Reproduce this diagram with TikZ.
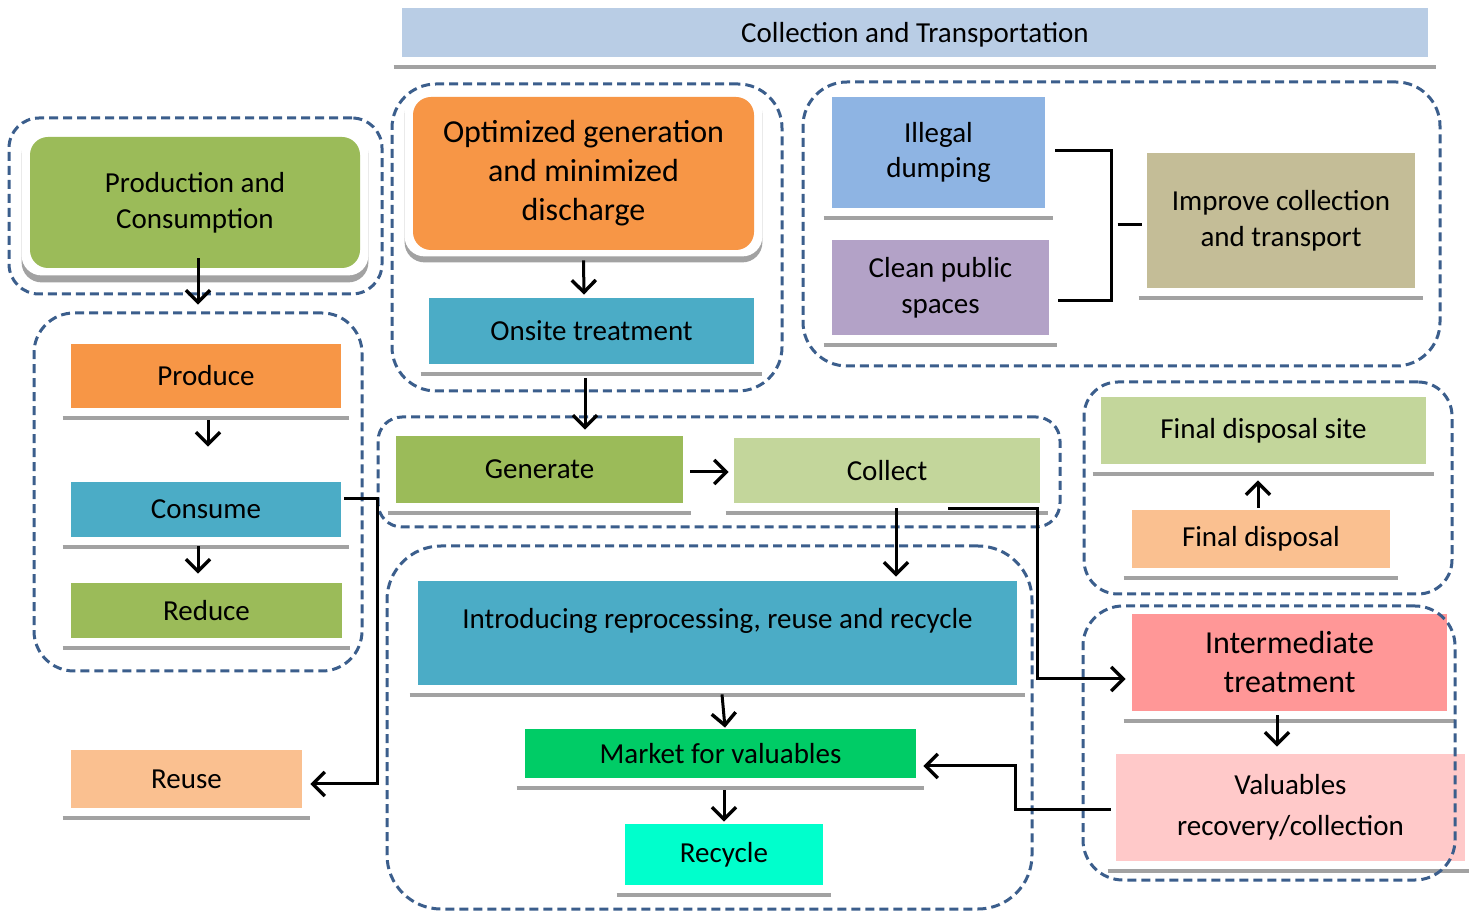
\documentclass[tikz,border=0pt]{standalone}
\usepackage{fontspec}
\setmainfont{Carlito}
\usetikzlibrary{arrows.meta,backgrounds,fit}

\definecolor{bannerblue}{HTML}{B9CDE5}
\definecolor{leafgreen}{HTML}{9BBB59}
\definecolor{paleleaf}{HTML}{C3D69B}
\definecolor{amberbox}{HTML}{F79646}
\definecolor{peachbox}{HTML}{FAC090}
\definecolor{tealbox}{HTML}{4BACC6}
\definecolor{skybox}{HTML}{8EB4E3}
\definecolor{lilacbox}{HTML}{B3A2C7}
\definecolor{khakibox}{HTML}{C4BD97}
\definecolor{salmonbox}{HTML}{FF9797}
\definecolor{blushbox}{HTML}{FFC9C9}
\definecolor{emeraldbox}{HTML}{00CC66}
\definecolor{aquabox}{HTML}{00FFCC}
\definecolor{grpblue}{HTML}{3B5E8C}
\definecolor{shadowgray}{HTML}{A2A2A2}

\tikzset{
  lbl/.style={font=\fontsize{14.5}{18}\selectfont, align=center, text=black},
  big/.style={font=\fontsize{16}{19.5}\selectfont},
  sz/.style 2 args={minimum width=#1*0.5pt, minimum height=#2*0.5pt},
  bar/.style={draw=shadowgray, line width=2pt},
  tile/.style={lbl, fill=#1, inner sep=0pt,
    append after command={([shift={(-8,10)}]\tikzlastnode.south west)
      edge[bar] ([shift={(8,10)}]\tikzlastnode.south east)}},
  rtile/.style={lbl, fill=#1, inner sep=0pt, rounded corners=9pt},
  frameshade/.style={fill=shadowgray, rounded corners=10pt},
  framewhite/.style={fill=white, rounded corners=10pt},
  grp/.style={draw=grpblue, line width=1.5pt, dash pattern=on 4.5pt off 2.5pt, inner sep=0pt},
  conn/.style={line width=1.5pt},
  arr/.style={conn, -{Straight Barb[length=6pt,width=12pt,line width=1.7pt]}},
}

\begin{document}
\begin{tikzpicture}[x=0.5pt,y=-0.5pt]
\useasboundingbox (0,0) rectangle (1469,914);

% ---- boxes ----
\node[tile=bannerblue, sz={1026}{49}, text depth=0pt] (ban) at (915,32.5) {Collection and Transportation};
\node[rtile=leafgreen, sz={330}{131}] (pc) at (195,202.5) {Production and\\Consumption};
\node[rtile=amberbox, big, sz={341}{153}] (opt) at (583.5,173.5) {Optimized generation\\and minimized\\discharge};
\node[tile=tealbox, sz={325}{66}] (ons) at (591.5,331) {Onsite treatment};
\node[tile=skybox, sz={213}{111}, font=\fontsize{14.5}{17.5}\selectfont] (ill) at (938.5,152.5) {Illegal\\dumping};
\node[tile=lilacbox, sz={217}{95}] (cps) at (940.5,287.5) {Clean public\\spaces};
\node[tile=khakibox, sz={268}{135}] (ict) at (1281,220.5) {Improve collection\\and transport};
\node[tile=amberbox, sz={270}{64}] (prd) at (206,376) {Produce};
\node[tile=tealbox, sz={270}{55}] (con) at (206,509.5) {Consume};
\node[tile=leafgreen, sz={271}{55}] (red) at (206.5,610.5) {Reduce};
\node[tile=peachbox, sz={231}{58}] (reu) at (186.5,779) {Reuse};
\node[tile=leafgreen, sz={287}{67}] (gen) at (539.5,469.5) {Generate};
\node[tile=paleleaf, sz={306}{65}] (col) at (887,470.5) {Collect};
\node[tile=tealbox, sz={599}{104}, text depth=15pt] (int) at (717.5,633) {Introducing reprocessing, reuse and recycle};
\node[tile=emeraldbox, sz={391}{49}, text depth=0pt] (mkt) at (720.5,753.5) {Market for valuables};
\node[tile=aquabox, sz={198}{61}] (rec) at (724,854.5) {Recycle};
\node[tile=paleleaf, sz={325}{67}] (fds) at (1263.5,430.5) {Final disposal site};
\node[tile=peachbox, sz={258}{58}] (fd) at (1261,539) {Final disposal};
\node[tile=salmonbox, big, sz={315}{97}] (itr) at (1289.5,662.5) {Intermediate\\treatment};
\node[tile=blushbox, sz={349}{107}, font=\fontsize{14.5}{20.5}\selectfont] (val) at (1290.5,807.5) {Valuables\\recovery/collection};

% raised frames behind the two rounded boxes
\begin{scope}[on background layer]
  \fill[frameshade] ([shift={(-8,-2)}]pc.north west) rectangle ([shift={(8,14)}]pc.south east);
  \fill[framewhite] ([shift={(-8,-6)}]pc.north west) rectangle ([shift={(8,7)}]pc.south east);
  \fill[frameshade] ([shift={(-8,-2)}]opt.north west) rectangle ([shift={(8,12)}]opt.south east);
  \fill[framewhite] ([shift={(-8,-6)}]opt.north west) rectangle ([shift={(8,6)}]opt.south east);
\end{scope}

% ---- dashed groups ----
\node[grp, rounded corners=15pt, fit={(9,118) (382,294)}] (g1) {};
\node[grp, rounded corners=22pt, fit={(392,84) (782,391)}] (g2) {};
\node[grp, rounded corners=22pt, fit={(803,82) (1440,366)}] (g3) {};
\node[grp, rounded corners=20pt, fit={(34,313) (362,671)}] (g4) {};
\node[grp, rounded corners=12pt, fit={(378,417) (1060,527)}] (g5) {};
\node[grp, rounded corners=27pt, fit={(387,546) (1032,909)}] (g6) {};
\node[grp, rounded corners=17pt, fit={(1084,382) (1452,594)}] (g7) {};
\node[grp, rounded corners=20pt, fit={(1083,606) (1455,880)}] (g8) {};

% ---- connectors ----
\draw[arr] ([shift={(3,-10)}]pc.south) -- ([shift={(-8,-39)}]prd.north);
\draw[arr] ([shift={(2,12)}]prd.south) -- ([shift={(2,-35)}]con.north);
\draw[arr] ([shift={(-8,9)}]con.south) -- ([shift={(-8.5,-9)}]red.north);
\draw[arr] ([shift={(3,-10.5)}]con.east) -- ++(33,0) |- ([shift={(8,5)}]reu.east);
\draw[arr] ([shift={(0,10)}]opt.south) -- ([shift={(-7.5,-3)}]ons.north);
\draw[arr] ([shift={(-6.5,14)}]ons.south) -- ([shift={(45.5,-6)}]gen.north);
\draw[arr] ([shift={(7,2.5)}]gen.east) -- ([shift={(-5,1.5)}]col.west);
\draw[arr] ([shift={(9,5)}]col.south) -- ([shift={(178.5,-4)}]int.north);
\draw[arr] ([shift={(-92,5)}]col.south east) -- ++(89,0) |- ([shift={(-6,16.5)}]itr.west);
\draw[arr] ([shift={(4.5,9)}]int.south) -- ([shift={(4.5,-1)}]mkt.north);
\draw[arr] ([shift={(3.5,12)}]mkt.south) -- ([shift={(0,-2)}]rec.north);
\draw[arr] ([shift={(-5,2.5)}]val.west) -- ++(-95,0) |- ([shift={(7,12.5)}]mkt.east);
\draw[arr] ([shift={(-3,-2)}]fd.north) -- ([shift={(-5.5,16)}]fds.south);
\draw[arr] ([shift={(-12.5,4)}]itr.south) -- ([shift={(-13.5,-7)}]val.north);
\draw[conn] ([shift={(10,-1.5)}]ill.east) -- ++(56,0) |- ([shift={(9,13.5)}]cps.east);
\draw[conn] ([shift={(-29,4.5)}]ict.west) -- ([shift={(-5,4.5)}]ict.west);
\end{tikzpicture}
\end{document}
